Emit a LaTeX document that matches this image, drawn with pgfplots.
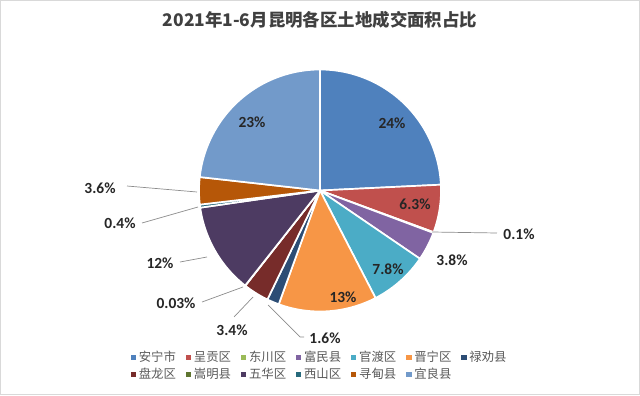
\documentclass[border=0pt]{standalone}
\usepackage{fontspec}
\usepackage{pgfplots}
\usepackage{pgfplotstable}
\pgfplotsset{compat=1.18}
\setmainfont{Carlito}
\newfontfamily\cjk{Noto Sans CJK SC}
\definecolor{c0}{HTML}{4F81BD}
\definecolor{c1}{HTML}{C0504D}
\definecolor{c2}{HTML}{9BBB59}
\definecolor{c3}{HTML}{8064A2}
\definecolor{c4}{HTML}{4BACC6}
\definecolor{c5}{HTML}{F79646}
\definecolor{c6}{HTML}{2C4D75}
\definecolor{c7}{HTML}{772C2A}
\definecolor{c8}{HTML}{5F7530}
\definecolor{c9}{HTML}{4D3B62}
\definecolor{c10}{HTML}{276A7C}
\definecolor{c11}{HTML}{B65708}
\definecolor{c12}{HTML}{729ACA}
\definecolor{labc}{HTML}{262626}
\definecolor{titc}{HTML}{404040}
\definecolor{legc}{HTML}{595959}
\definecolor{leadc}{HTML}{8C8C8C}
\definecolor{framec}{HTML}{D9D9D9}
\pgfplotstableread{
name val
安宁市 24
呈贡区 6.3
东川区 0.1
富民县 3.8
官渡区 7.8
晋宁区 13
禄劝县 1.6
盘龙区 3.4
嵩明县 0.03
五华区 12
西山区 0.4
寻甸县 3.6
宜良县 23
}\pietable
\begin{document}
\begin{tikzpicture}
\pgfmathsetmacro\total{0}%
\pgfplotsforeachungrouped \i in {0,...,12}{%
  \pgfplotstablegetelem{\i}{val}\of\pietable
  \pgfmathsetmacro\total{\total+\pgfplotsretval}%
}%
\pgfmathsetmacro\degper{360/\total}%
\begin{axis}[
  scale only axis, width=16cm, height=9.875cm,
  xmin=-320, xmax=320, ymin=-204.5, ymax=190.5,
  axis lines=none, clip=false,
  legend columns=7,
  legend cell align=left,
  legend image code/.code={\fill[#1,draw=none] (0pt,-1.9pt) rectangle (3.8pt,1.9pt);},
  legend style={at={(axis cs:0,-175.5)}, anchor=center, draw=none, fill=none,
    font=\cjk\fontsize{8.8}{10}\selectfont, text=legc,
    /tikz/every even column/.append style={column sep=5pt},
    row sep=-1pt},
]
\pgfmathsetmacro\cum{0}%
\pgfplotsforeachungrouped \i in {0,...,12}{%
  \pgfplotstablegetelem{\i}{val}\of\pietable
  \let\v\pgfplotsretval
  \pgfplotstablegetelem{\i}{name}\of\pietable
  \let\nm\pgfplotsretval
  \pgfmathsetmacro\angA{90-\degper*\cum}%
  \pgfmathsetmacro\cum{\cum+\v}%
  \pgfmathsetmacro\angB{90-\degper*\cum}%
  \edef\doplot{\noexpand\addplot[fill=c\i, draw=white, line width=1.2pt, line join=round, domain=\angB:\angA, samples=60]
    ({121*cos(x)},{121*sin(x)}) -- (axis cs:0,0) -- cycle;
    \noexpand\addlegendentry{\nm}}%
  \doplot
}
% leader lines
\draw[leadc, line width=0.5pt] (axis cs:112,-41.5) -- (axis cs:177,-42.5);
\draw[leadc, line width=0.5pt] (axis cs:-52,-114.5) -- (axis cs:-20,-146.5) -- (axis cs:-16,-146.5);
\draw[leadc, line width=0.5pt] (axis cs:-67,-106.5) -- (axis cs:-86,-126.5);
\draw[leadc, line width=0.5pt] (axis cs:-77,-96.5) -- (axis cs:-118,-111.5);
\draw[leadc, line width=0.5pt] (axis cs:-113,-66.5) -- (axis cs:-140,-71.5);
\draw[leadc, line width=0.5pt] (axis cs:-122,-16.5) -- (axis cs:-178,-32.5);
\draw[leadc, line width=0.5pt] (axis cs:-123,-1.5) -- (axis cs:-193,4.5);
% labels
\begin{scope}[every node/.style={font=\bfseries\fontsize{11}{13}\selectfont, text=labc}]
\node at (axis cs:72,67.5) {24\%};
\node at (axis cs:-68,68.5) {23\%};
\node at (axis cs:95,-13.5) {6.3\%};
\node at (axis cs:199,-43.5) {0.1\%};
\node at (axis cs:132,-69.5) {3.8\%};
\node at (axis cs:68,-78.5) {7.8\%};
\node at (axis cs:23,-106.5) {13\%};
\node at (axis cs:5,-147.5) {1.6\%};
\node at (axis cs:-88,-139.5) {3.4\%};
\node at (axis cs:-144,-112.5) {0.03\%};
\node at (axis cs:-160,-72.5) {12\%};
\node at (axis cs:-200,-32.5) {0.4\%};
\node at (axis cs:-220,2.5) {3.6\%};
\end{scope}
\node[font=\cjk\bfseries\fontsize{12.4}{14}\selectfont, text=titc] at (axis cs:0,170.5) {2021年1-6月昆明各区土地成交面积占比};
\draw[framec, line width=0.6pt] (axis cs:-319.6,-204.1) rectangle (axis cs:319.6,190.1);
\end{axis}
\end{tikzpicture}
\end{document}
